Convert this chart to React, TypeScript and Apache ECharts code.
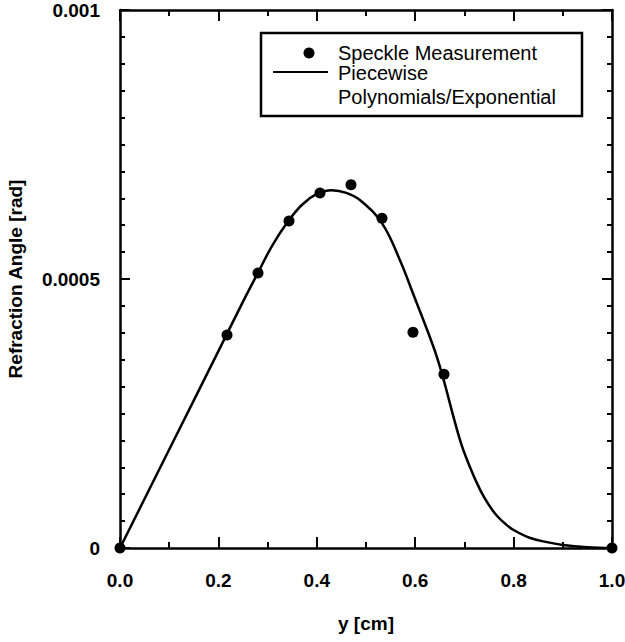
import React, { useEffect, useRef } from "react";
import * as echarts from "echarts";

// Speckle measurement points: [y cm, refraction angle rad]
const measX = [0, 0.2175, 0.2805, 0.3435, 0.4065, 0.4695, 0.5325, 0.5955, 0.6585, 1.0];
const measY = [0, 0.000396, 0.000511, 0.000608, 0.00066, 0.000675, 0.000613, 0.000401, 0.000323, 0];

// Piecewise polynomials / exponential fit
const fitX = [0, 0.1, 0.2, 0.25, 0.28, 0.31, 0.34, 0.37, 0.4, 0.43, 0.46, 0.49, 0.533, 0.569, 0.596, 0.637, 0.654, 0.691, 0.711, 0.732, 0.749, 0.766, 0.783, 0.8, 0.834, 0.87, 0.9, 0.95, 1.0];
const fitY = [0, 0.000183, 0.000366, 0.000458, 0.000511, 0.000563, 0.000605, 0.000638, 0.000658, 0.000665, 0.00066, 0.000645, 0.000603, 0.000535, 0.000472, 0.000374, 0.000325, 0.000201, 0.000151, 0.000108, 0.000081, 0.00006, 0.000045, 0.0000335, 0.0000186, 0.0000105, 0.0000056, 0.0000015, 0];

const yTickLabels = ["0", "0.0005", "0.001"];
const legendNames = ["Speckle Measurement", "Piecewise", "Polynomials/Exponential"];

const FONT = "'Liberation Sans', Arial, Helvetica, sans-serif";

export default function App() {
  const ref = useRef<HTMLDivElement>(null);
  useEffect(() => {
    if (!ref.current) return;
    const chart = echarts.init(ref.current, undefined, { renderer: "svg" });
    const axisLine = { show: true, onZero: false, lineStyle: { color: "#000", width: 2.5 } };
    const xTick = { show: true, inside: true, length: 11, lineStyle: { color: "#000", width: 2 } };
    const xMinor = { show: true, splitNumber: 2, length: 6, lineStyle: { color: "#000", width: 2 } };
    const yTick = { show: true, inside: true, length: 10, lineStyle: { color: "#000", width: 2 } };
    const yMinor = { show: true, splitNumber: 10, length: 5, lineStyle: { color: "#000", width: 2 } };
    const yFmt = (v: number) => {
      if (Math.abs(v) < 1e-12) return yTickLabels[0];
      if (Math.abs(v - 0.0005) < 1e-9) return yTickLabels[1];
      if (Math.abs(v - 0.001) < 1e-9) return yTickLabels[2];
      return "";
    };
    chart.setOption({
      animation: false,
      backgroundColor: "#fff",
      grid: { left: 120, right: 13, top: 10, bottom: 94, outerBoundsMode: "none", containLabel: false },
      xAxis: [
        {
          type: "value",
          position: "bottom",
          min: 0,
          max: 1,
          interval: 0.2,
          name: "y [cm]",
          nameLocation: "middle",
          nameGap: 66,
          nameTextStyle: { fontFamily: FONT, fontWeight: "bold", fontSize: 19, color: "#000" },
          axisLine,
          axisTick: xTick,
          minorTick: xMinor,
          splitLine: { show: false },
          minorSplitLine: { show: false },
          axisLabel: {
            margin: 23,
            fontFamily: FONT,
            fontWeight: "bold",
            fontSize: 19,
            color: "#000",
            formatter: (v: number) => v.toFixed(1),
          },
        },
        {
          type: "value",
          position: "top",
          min: 0,
          max: 1,
          interval: 0.2,
          axisLine,
          axisTick: xTick,
          minorTick: xMinor,
          splitLine: { show: false },
          minorSplitLine: { show: false },
          axisLabel: { show: false },
        },
      ],
      yAxis: [
        {
          type: "value",
          position: "left",
          min: 0,
          max: 0.001,
          interval: 0.0005,
          name: "Refraction Angle [rad]",
          nameLocation: "middle",
          nameGap: 95,
          nameTextStyle: { fontFamily: FONT, fontWeight: "bold", fontSize: 19, color: "#000" },
          axisLine,
          axisTick: yTick,
          minorTick: yMinor,
          splitLine: { show: false },
          minorSplitLine: { show: false },
          axisLabel: {
            margin: 20,
            fontFamily: FONT,
            fontWeight: "bold",
            fontSize: 19,
            color: "#000",
            formatter: yFmt,
          },
        },
        {
          type: "value",
          position: "right",
          min: 0,
          max: 0.001,
          interval: 0.0005,
          axisLine,
          axisTick: yTick,
          minorTick: yMinor,
          splitLine: { show: false },
          minorSplitLine: { show: false },
          axisLabel: { show: false },
        },
      ],
      series: [
        {
          name: legendNames[2],
          type: "line",
          xAxisIndex: 0,
          yAxisIndex: 0,
          data: fitX.map((x, i) => [x, fitY[i]]),
          smooth: 0.4,
          showSymbol: false,
          symbol: "none",
          lineStyle: { color: "#000", width: 2.5 },
          clip: false,
          z: 3,
        },
        {
          name: legendNames[0],
          type: "scatter",
          xAxisIndex: 0,
          yAxisIndex: 0,
          data: measX.map((x, i) => [x, measY[i]]),
          symbol: "circle",
          symbolSize: 11,
          itemStyle: { color: "#000", opacity: 1 },
          clip: false,
          z: 4,
        },
      ],
      graphic: [
        {
          type: "rect",
          shape: { x: 261, y: 33, width: 321, height: 83 },
          style: { fill: "#fff", stroke: "#000", lineWidth: 2.5 },
          z: 10,
        },
        {
          type: "circle",
          shape: { cx: 309, cy: 53, r: 5.5 },
          style: { fill: "#000" },
          z: 11,
        },
        {
          type: "line",
          shape: { x1: 273, y1: 72, x2: 328, y2: 72 },
          style: { stroke: "#000", lineWidth: 2 },
          z: 11,
        },
        {
          type: "text",
          x: 338,
          y: 53,
          style: { text: legendNames[0], fontFamily: FONT, fontSize: 20, fill: "#000", verticalAlign: "middle", align: "left" },
          z: 11,
        },
        {
          type: "text",
          x: 338,
          y: 73,
          style: { text: legendNames[1], fontFamily: FONT, fontSize: 20, fill: "#000", verticalAlign: "middle", align: "left" },
          z: 11,
        },
        {
          type: "text",
          x: 338,
          y: 97,
          style: { text: legendNames[2], fontFamily: FONT, fontSize: 20, fill: "#000", verticalAlign: "middle", align: "left" },
          z: 11,
        },
      ],
    });
    return () => chart.dispose();
  }, []);
  return <div ref={ref} style={{ width: 625, height: 642, position: "absolute", left: 0, top: 0 }} />;
}
